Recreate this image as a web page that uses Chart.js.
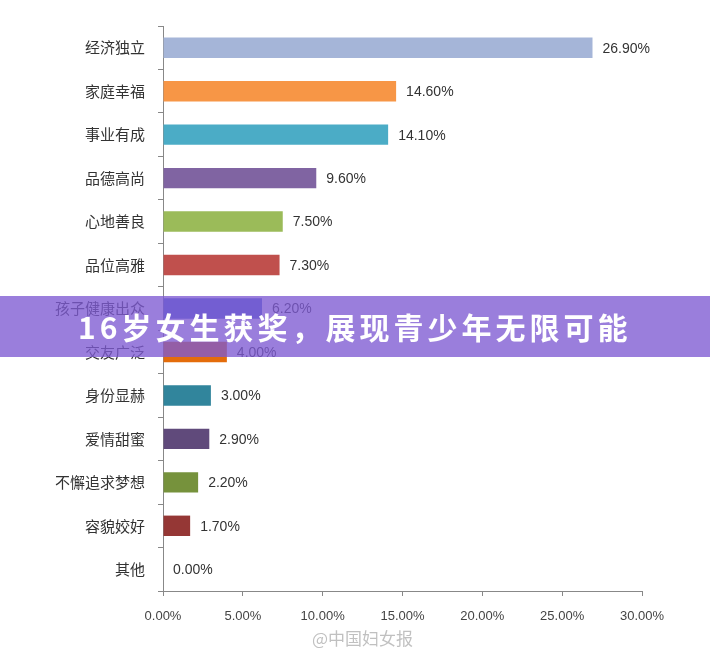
<!DOCTYPE html>
<html><head><meta charset="utf-8">
<script src="https://cdn.jsdelivr.net/npm/chart.js@4"></script>
<style>
html,body{margin:0;padding:0;background:#fff;}
#wrap{position:relative;width:710px;height:655px;}
#banner{position:absolute;left:0;top:296px;width:710px;height:61px;background:rgba(125,90,210,0.78);color:#fff;font:bold 30px "Noto Sans CJK SC",sans-serif;line-height:61px;padding-left:78px;box-sizing:border-box;letter-spacing:4px;white-space:nowrap;}
#wm{position:absolute;left:312px;top:625px;color:rgba(150,150,150,0.6);font:17px "Noto Sans CJK SC",sans-serif;}
</style></head><body>
<div id="wrap"><canvas id="c" width="710" height="655"></canvas>
<div id="banner">16岁女生获奖，展现青少年无限可能</div>
<div id="wm">@中国妇女报</div></div>
<script>
const categories=["经济独立","家庭幸福","事业有成","品德高尚","心地善良","品位高雅","孩子健康出众","交友广泛","身份显赫","爱情甜蜜","不懈追求梦想","容貌姣好","其他"];
const values=[26.9,14.6,14.1,9.6,7.5,7.3,6.2,4.0,3.0,2.9,2.2,1.7,0.0];
const colors=["#a5b5d8","#f79646","#4bacc6","#8064a2","#9bbb59","#c0504d","#4f6fd0","#e46c0a","#31859c","#604a7b","#76923c","#953735","#4f81bd"];
const labelPlugin={id:'lbl',afterDatasetsDraw(ch){const ctx=ch.ctx;const m=ch.getDatasetMeta(0);ctx.save();ctx.font='14px "Liberation Sans",Arial';ctx.fillStyle='#333';ctx.textBaseline='middle';
m.data.forEach((b,i)=>{ctx.fillText(values[i].toFixed(2)+'%',b.x+10,b.y+1);});ctx.restore();}};
new Chart(document.getElementById('c'),{type:'bar',
data:{labels:categories,datasets:[{data:values,backgroundColor:colors,barPercentage:0.47,categoryPercentage:1}]},
options:{indexAxis:'y',responsive:false,animation:false,
layout:{padding:{left:0,right:68,top:26,bottom:0}},
plugins:{legend:{display:false},tooltip:{enabled:false}},
scales:{x:{min:0,max:30,afterFit(s){s.height=64;},grid:{drawOnChartArea:false,drawTicks:true,tickLength:5,color:'#888'},border:{color:'#888'},
ticks:{stepSize:5,callback:v=>v.toFixed(2)+'%',color:'#444',font:{size:13,family:'"Liberation Sans",Arial'},padding:13}},
y:{afterFit(s){s.width=163;},grid:{drawOnChartArea:false,drawTicks:true,tickLength:5,offset:true,color:'#888'},border:{color:'#888'},
ticks:{color:'#333',font:{size:15,family:'"Noto Sans CJK SC"'},padding:13}}}},
plugins:[labelPlugin]});
</script></body></html>
